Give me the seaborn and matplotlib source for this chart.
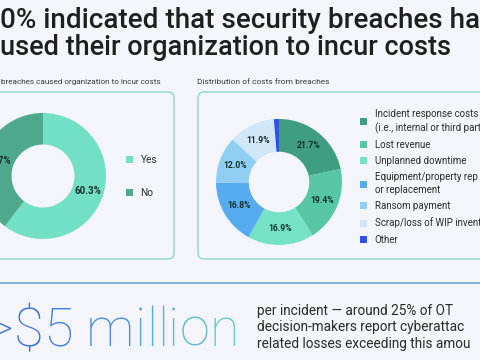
import matplotlib
matplotlib.use("Agg")
import matplotlib.pyplot as plt
import seaborn as sns
from matplotlib.patches import FancyBboxPatch

breach_labels = ["Yes", "No"]
breach_share = [60.3, 39.7]

cost_labels = [
    "Incident response costs\n(i.e., internal or third part",
    "Lost revenue",
    "Unplanned downtime",
    "Equipment/property rep\nor replacement",
    "Ransom payment",
    "Scrap/loss of WIP invent",
    "Other",
]
cost_share = [21.7, 19.4, 16.9, 16.8, 12.0, 11.9, 1.3]

title_lines = ["0% indicated that security breaches ha",
               "used their organization to incur costs"]
left_subtitle = "breaches caused organization to incur costs"
right_subtitle = "Distribution of costs from breaches"
big_number = ">$5 million"
note_lines = ["per incident \u2014 around 25% of OT",
              "decision-makers report cyberattac",
              "related losses exceeding this amou"]

# --- style ---
BG = "#f3f5fa"
breach_colors = ["#72e0c4", "#4ea98c"]
cost_colors = ["#3f9e80", "#56c6a3", "#75e2c6", "#56acee",
               "#90cff3", "#cfe7f8", "#3350e4"]
panel_edge = "#94dcc6"
label_dark = "#17302b"
text_col = "#2b2b2b"

sns.set_theme(style="white")
plt.rcParams["font.family"] = ["Roboto", "DejaVu Sans"]

W, H = 480, 360
fig = plt.figure(figsize=(W / 100, H / 100), dpi=100, facecolor=BG)
canvas = fig.add_axes([0, 0, 1, 1])
canvas.set_xlim(0, W)
canvas.set_ylim(H, 0)
canvas.axis("off")
renderer = fig.canvas.get_renderer()


def text_w(s, **kw):
    t = canvas.text(0, 0, s, **kw)
    w = t.get_window_extent(renderer).width
    t.remove()
    return w


def fit_size(s, target, **kw):
    return 10 * target / text_w(s, fontsize=10, **kw)


# title
for line, y, target in zip(title_lines, [28, 55], [478, 452]):
    size = fit_size(line, target, fontweight="medium")
    canvas.text(0, y, line, fontsize=size, fontweight="medium",
                color="#1f1f1f", va="baseline")

# panel subtitles
canvas.text(1, 82, left_subtitle, fontsize=fit_size(left_subtitle, 160),
            color="#3a3a3a", va="center")
canvas.text(197, 82, right_subtitle, fontsize=fit_size(right_subtitle, 132),
            color="#3a3a3a", va="center")

# panel frames
for x0, x1 in [(-30, 174), (198, 510)]:
    canvas.add_patch(FancyBboxPatch((x0, 92), x1 - x0, 167,
                                    boxstyle="round,pad=0,rounding_size=6",
                                    fill=False, edgecolor=panel_edge, lw=1.1))


def pie_axes(cx, cy, r):
    return fig.add_axes([(cx - r) / W, (H - cy - r) / H, 2 * r / W, 2 * r / H])


def pct(p):
    return f"{p:.1f}%" if p > 5 else ""


# left donut
axl = pie_axes(43, 176, 63)
wl, _, _ = axl.pie(breach_share, colors=breach_colors, startangle=90,
                   counterclock=False, autopct=pct, pctdistance=0.75,
                   wedgeprops=dict(width=0.5, linewidth=0),
                   textprops=dict(fontsize=7, fontweight="bold", color=label_dark))
axl.set_xlim(-1, 1)
axl.set_ylim(-1, 1)
axl.axis("off")

# right donut
axr = pie_axes(279, 182, 63)
wr, _, _ = axr.pie(cost_share, colors=cost_colors, startangle=90,
                   counterclock=False, autopct=pct, pctdistance=0.74,
                   wedgeprops=dict(width=0.52, linewidth=0),
                   textprops=dict(fontsize=6.2, fontweight="bold", color=label_dark))
axr.set_xlim(-1, 1)
axr.set_ylim(-1, 1)
axr.axis("off")

# legends
leg_l = canvas.legend(wl, breach_labels, loc="upper left", bbox_to_anchor=(126, 155),
                      bbox_transform=canvas.transData, frameon=False, fontsize=7.2,
                      handlelength=0.7, handleheight=0.7, handletextpad=0.75,
                      labelspacing=2.25, borderpad=0, borderaxespad=0,
                      labelcolor=text_col)
canvas.add_artist(leg_l)
leg_r = canvas.legend(wr, cost_labels, loc="upper left", bbox_to_anchor=(360, 109),
                      bbox_transform=canvas.transData, frameon=False, fontsize=7.0,
                      handlelength=0.73, handleheight=0.73, handletextpad=0.78,
                      labelspacing=0.64, borderpad=0, borderaxespad=0,
                      labelcolor=text_col)
for t in leg_r.get_texts():
    t.set_linespacing(1.35)

# divider
canvas.plot([0, W], [283, 283], color="#6fa0dc", lw=1.2)

# big gradient figure, one character at a time
bkw = dict(fontsize=39, fontweight="light")
x0 = 14 - text_w(">", **bkw)
grad = sns.blend_palette(["#3b72de", "#559ae2", "#68d6c7"], as_cmap=True)
xs = [x0 + text_w(big_number[:i + 1], **bkw) - text_w(ch, **bkw)
      for i, ch in enumerate(big_number)]
for ch, x in zip(big_number, xs):
    if ch == " ":
        continue
    frac = min(max((x - 10) / 215, 0), 1)
    canvas.text(x, 346, ch, color=grad(frac), va="baseline", **bkw)

# side note
ns = min(fit_size(s, w) for s, w in zip(note_lines, [197, 221, 221]))
for y, line in zip([311, 327.5, 344], note_lines):
    canvas.text(257, y, line, fontsize=ns, color=text_col, va="center")

fig.savefig("out.png", dpi=100, facecolor=BG)
